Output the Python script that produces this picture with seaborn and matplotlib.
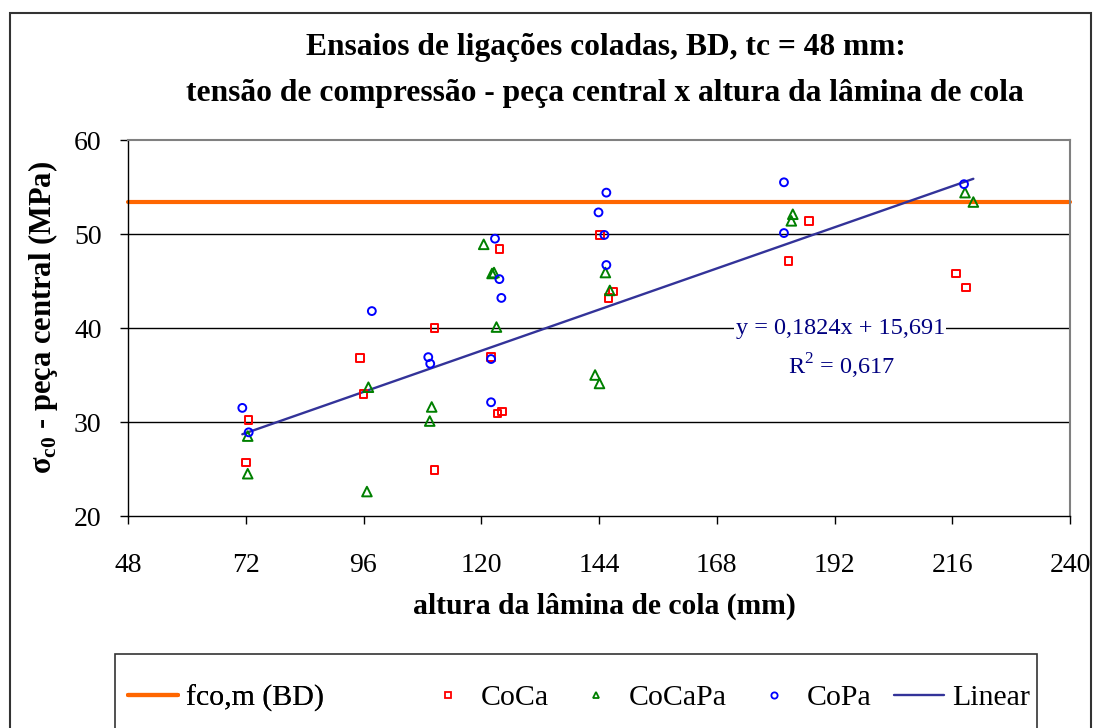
import numpy as np
import pandas as pd
import matplotlib
matplotlib.use("Agg")
import matplotlib.pyplot as plt
from matplotlib.lines import Line2D
from matplotlib.patches import Rectangle
import seaborn as sns

# ---------------- data ----------------
coca_x = [72.6, 72.1, 95.3, 96.0, 110.5, 110.5, 122.0, 123.7, 123.3, 124.2,
          144.2, 145.9, 146.8, 182.6, 186.8, 216.8, 218.8]
coca_y = [30.2, 25.7, 36.8, 33.0, 40.0, 24.9, 36.9, 48.4, 30.9, 31.1,
          49.9, 43.2, 43.9, 47.1, 51.4, 45.8, 44.3]

cocapa_x = [72.4, 72.4, 97.0, 96.7, 109.9, 109.5, 120.5, 122.2, 122.6, 123.1,
            145.3, 146.2, 143.2, 144.1, 183.5, 183.2, 218.6, 220.3]
cocapa_y = [28.5, 24.5, 33.7, 22.6, 31.6, 30.1, 48.9, 45.8, 45.9, 40.1,
            45.9, 44.0, 35.0, 34.1, 52.1, 51.4, 54.4, 53.4]

copa_x = [71.3, 72.6, 97.7, 109.2, 109.6, 122.8, 123.7, 124.1, 122.0, 122.0,
          145.1, 145.5, 145.5, 143.9, 181.7, 181.7, 218.4]
copa_y = [31.5, 28.9, 41.8, 36.9, 36.2, 49.5, 45.2, 43.2, 36.7, 32.1,
          49.9, 46.7, 54.4, 52.3, 55.5, 50.1, 55.3]

fco_m = 53.4
fit_slope = 0.1824
fit_intercept = 15.691
fit_r2 = 0.617

x_ticks = [48, 72, 96, 120, 144, 168, 192, 216, 240]
y_ticks = [20, 30, 40, 50, 60]

title_line1 = "Ensaios de ligações coladas, BD, tc = 48 mm:"
title_line2 = "tensão de compressão - peça central x altura da lâmina de cola"
x_label = "altura da lâmina de cola (mm)"
y_label = r"σ$_{\mathbf{c0}}$ - peça central (MPa)"
legend_labels = ["fco,m (BD)", "CoCa", "CoCaPa", "CoPa", "Linear"]

# ---------------- style ----------------
sns.set_theme(style="white")
plt.rcParams["font.family"] = ["Liberation Serif", "DejaVu Serif"]
plt.rcParams["mathtext.fontset"] = "custom"
plt.rcParams["mathtext.rm"] = "Liberation Serif"
plt.rcParams["mathtext.bf"] = "Liberation Serif:bold"
plt.rcParams["text.color"] = "black"
plt.rcParams["axes.labelcolor"] = "black"
plt.rcParams["xtick.color"] = "black"
plt.rcParams["ytick.color"] = "black"

W, H = 1095, 728
fig = plt.figure(figsize=(W / 100, H / 100), dpi=100)
fig.patch.set_facecolor("white")

def fx(px):
    return px / W

def fy(py):
    return 1 - py / H

ax = fig.add_axes([fx(128), fy(516), fx(1070) - fx(128), fy(140) - fy(516)])

c_red, c_green, c_blue = "#FF0000", "#008000", "#0000FF"
c_orange, c_lin = "#FF6600", "#333399"

ax.axhline(fco_m, color=c_orange, lw=3.0, zorder=2, clip_on=False)

df_coca = pd.DataFrame({"x": coca_x, "y": coca_y})
df_cocapa = pd.DataFrame({"x": cocapa_x, "y": cocapa_y})
df_copa = pd.DataFrame({"x": copa_x, "y": copa_y})

sns.scatterplot(data=df_coca, x="x", y="y", ax=ax, marker="s", s=30,
                color=c_red, facecolor="none", edgecolor=c_red,
                linewidth=1.4, zorder=4)
sns.scatterplot(data=df_cocapa, x="x", y="y", ax=ax, marker="^", s=48,
                color=c_green, facecolor="none", edgecolor=c_green,
                linewidth=1.4, zorder=4)
sns.scatterplot(data=df_copa, x="x", y="y", ax=ax, marker="o", s=32,
                color=c_blue, facecolor="none", edgecolor=c_blue,
                linewidth=1.4, zorder=4)

all_x = np.array(coca_x + cocapa_x + copa_x)
xfit = np.array([all_x.min(), all_x.max()])
yfit = fit_slope * xfit + fit_intercept
sns.lineplot(x=xfit, y=yfit, ax=ax, color=c_lin, lw=1.7, zorder=3)

ax.set_xlim(48, 240)
ax.set_ylim(20, 60)
ax.set_xticks(x_ticks)
ax.set_yticks(y_ticks)
ax.set_xticklabels([str(t) for t in x_ticks])
ax.set_yticklabels([str(t) for t in y_ticks])
ax.tick_params(axis="both", direction="out", length=6, width=1, color="black",
               labelsize=20, labelcolor="black")
ax.tick_params(axis="y", pad=13)
ax.tick_params(axis="x", pad=21)
ax.tick_params(bottom=True, left=True)

ax.yaxis.grid(True, color="black", lw=1.0)
ax.set_axisbelow(True)
gls = ax.yaxis.get_gridlines()
gls[0].set_visible(False)
gls[-1].set_visible(False)

for side in ["top", "right"]:
    ax.spines[side].set_color("#808080")
    ax.spines[side].set_linewidth(1.5)
for side in ["left", "bottom"]:
    ax.spines[side].set_color("black")
    ax.spines[side].set_linewidth(1.0)

ax.set_xlabel("")
ax.set_ylabel("")

# equation annotation
ax.text(193.2, 39.9, f"y = {str(fit_slope).replace('.', ',')}x + {str(fit_intercept).replace('.', ',')}",
        ha="center", va="center", fontsize=17.5, color="#000080", zorder=5,
        bbox=dict(facecolor="white", edgecolor="none", pad=1))
ax.text(193.5, 35.9, r"R$^{2}$ = " + str(fit_r2).replace(".", ","),
        ha="center", va="center", fontsize=17.5, color="#000080", zorder=5)

# titles and labels
fig.text(fx(606), fy(48), title_line1, ha="center", va="center",
         fontsize=22.7, fontweight="bold")
fig.text(fx(605), fy(93), title_line2, ha="center", va="center",
         fontsize=22.7, fontweight="bold")
fig.text(fx(604), fy(606), x_label, ha="center", va="center",
         fontsize=21.3, fontweight="bold")
fig.text(fx(43), fy(318), y_label, ha="center", va="center",
         fontsize=22, fontweight="bold", rotation=90)

# outer chart border
fig.add_artist(Rectangle((fx(10), fy(760)), fx(1091) - fx(10), fy(13) - fy(760),
                         transform=fig.transFigure, fill=False,
                         edgecolor="#333333", lw=1.5, clip_on=False))
# legend frame
fig.add_artist(Rectangle((fx(115), fy(760)), fx(1037) - fx(115), fy(654) - fy(760),
                         transform=fig.transFigure, fill=False,
                         edgecolor="#333333", lw=1.2, clip_on=False))

h_fco = Line2D([], [], color=c_orange, lw=3.0)
h_coca = Line2D([], [], color=c_red, marker="s", ls="none", markersize=4.5,
                markerfacecolor="none", markeredgewidth=1.3)
h_cocapa = Line2D([], [], color=c_green, marker="^", ls="none", markersize=5,
                  markerfacecolor="none", markeredgewidth=1.3)
h_copa = Line2D([], [], color=c_blue, marker="o", ls="none", markersize=4.5,
                markerfacecolor="none", markeredgewidth=1.3)
h_lin = Line2D([], [], color=c_lin, lw=1.7)

fs_leg = 21.5
leg1 = fig.legend([h_fco], [legend_labels[0]], loc="center left",
                  bbox_to_anchor=(fx(128), fy(698)), frameon=False, fontsize=fs_leg,
                  borderpad=0, borderaxespad=0, handlelength=1.67, handletextpad=0.27)
fig.add_artist(leg1)
leg2 = fig.legend([h_coca, h_cocapa, h_copa, h_lin], legend_labels[1:],
                  loc="center left", bbox_to_anchor=(fx(423), fy(698)), ncol=4,
                  frameon=False, fontsize=fs_leg, borderpad=0, borderaxespad=0,
                  handlelength=1.67, handletextpad=0.27, columnspacing=0.74)

fig.savefig("out.png", dpi=100)
